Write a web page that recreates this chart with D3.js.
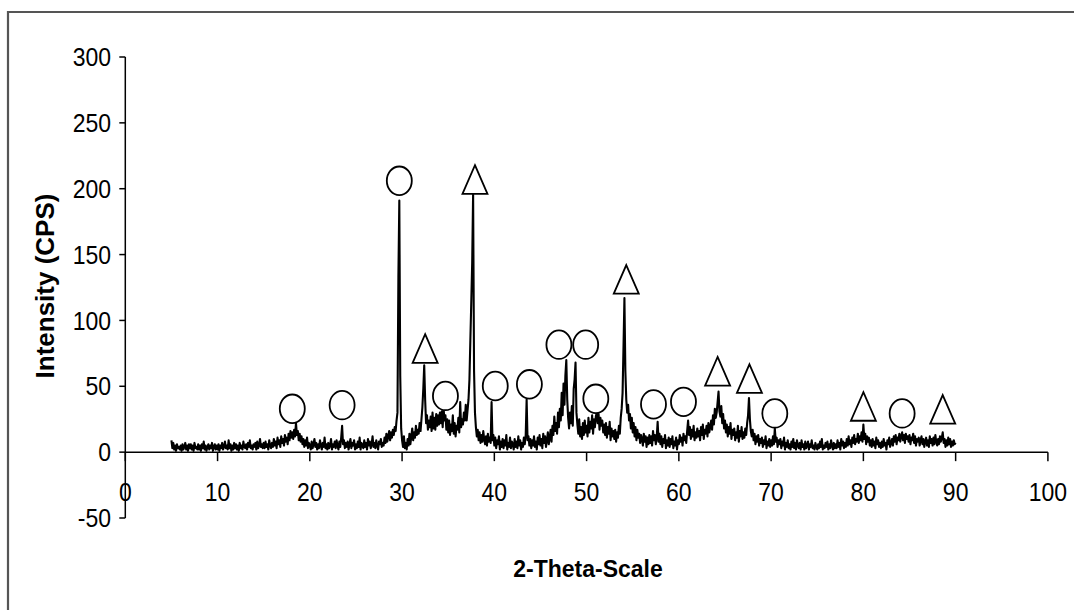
<!DOCTYPE html>
<html>
<head>
<meta charset="utf-8">
<script src="https://cdn.jsdelivr.net/npm/d3@7"></script>
<style>
  html, body { margin: 0; padding: 0; background: #fff; }
  svg { display: block; }
  text { font-family: "Liberation Sans", Arial, sans-serif; fill: #000; }
</style>
</head>
<body>
<svg id="chart" width="1074" height="610"></svg>
<script>
// XRD scan: one row per whole degree of 2-theta, ten readings per row (0.1 deg step)
const scanStart = 5;
const intensityRows = [
  [9,3,7,2,5,1,6,3,4,2],          // 5
  [5,1,6,2,4,7,2,5,1,6],          // 6
  [3,6,2,5,1,7,3,4,2,6],          // 7
  [2,5,1,6,3,8,2,5,1,4],          // 8
  [6,2,5,3,7,1,4,6,2,5],          // 9
  [2,6,1,5,3,7,2,4,8,3],          // 10
  [5,2,9,3,6,1,5,2,7,3],          // 11
  [6,2,5,1,7,3,5,2,8,4],          // 12
  [3,6,2,7,4,9,3,5,2,6],          // 13
  [4,7,2,8,3,5,10,4,6,3],         // 14
  [7,3,8,4,6,2,9,5,3,7],          // 15
  [4,10,5,8,3,11,6,9,4,12],       // 16
  [7,10,5,13,8,11,6,14,9,16],     // 17
  [11,15,10,17,12,22,13,16,9,14], // 18
  [8,12,6,10,4,9,5,11,3,7],       // 19
  [5,2,8,3,6,10,4,7,2,6],         // 20
  [3,9,5,2,7,4,11,3,6,2],         // 21
  [7,3,5,10,2,6,4,8,3,9],         // 22
  [5,2,8,4,11,20,6,9,3,7],        // 23
  [4,8,2,6,10,3,7,5,9,2],         // 24
  [6,3,8,4,11,2,7,5,3,9],         // 25
  [4,7,2,10,5,8,3,6,12,4],        // 26
  [7,3,9,5,2,8,6,10,4,7],         // 27
  [5,11,7,14,8,12,16,9,15,11],    // 28
  [17,13,19,16,24,30,133,191,58,18], // 29
  [9,4,12,3,7,2,10,5,14,6],       // 30
  [12,18,9,15,11,20,13,17,14,22], // 31
  [16,25,34,48,66,40,22,28,17,24],// 32
  [19,27,16,30,18,26,17,29,20,28],// 33
  [21,30,22,31,19,33,24,28,17,25],// 34
  [15,24,13,21,16,28,14,22,12,20],// 35
  [17,26,15,38,19,25,21,30,24,36],// 36
  [24,32,40,55,85,114,144,196,62,30], // 37
  [19,12,17,9,15,7,13,8,16,10],   // 38
  [6,12,5,14,8,11,7,38,9,13],     // 39
  [5,11,3,9,6,12,2,8,4,10],       // 40
  [3,9,5,13,2,7,4,11,3,8],        // 41
  [6,2,10,4,8,3,12,5,9,2],        // 42
  [7,4,11,6,13,40,9,12,5,10],     // 43
  [3,9,5,12,4,8,2,11,6,13],       // 44
  [5,10,3,14,7,12,4,9,15,6],      // 45
  [11,17,8,20,13,27,16,22,14,30], // 46
  [19,33,24,45,28,52,36,58,70,40],// 47
  [26,18,30,22,35,20,48,55,68,30],// 48
  [21,14,25,12,19,10,22,13,24,15],// 49
  [20,12,26,15,23,18,28,14,25,19],// 50
  [27,30,22,29,17,26,20,24,15,21],// 51
  [13,22,11,19,14,23,9,18,12,16], // 52
  [10,17,8,15,11,20,14,26,33,45], // 53
  [80,117,62,40,30,36,24,29,18,26], // 54
  [15,22,12,19,9,17,11,14,7,13],  // 55
  [10,5,14,8,12,4,11,6,13,7],     // 56
  [12,5,16,9,13,6,11,23,8,14],    // 57
  [6,12,4,10,7,13,3,9,5,11],      // 58
  [4,10,6,12,3,8,5,11,2,9],       // 59
  [6,13,8,11,5,14,9,12,7,16],     // 60
  [24,13,19,10,17,12,20,9,15,11], // 61
  [18,12,16,9,19,13,21,10,17,14], // 62
  [20,12,22,15,19,24,17,28,21,33],// 63
  [26,30,38,46,31,27,35,22,29,18],// 64
  [24,15,21,12,19,14,22,10,17,13],// 65
  [18,9,15,11,20,8,16,12,19,10],  // 66
  [15,11,18,13,22,28,41,25,16,12],// 67
  [17,9,14,6,12,8,13,5,10,7],     // 68
  [11,4,9,6,12,3,8,5,10,4],       // 69
  [9,5,12,6,18,8,11,4,9,6],       // 70
  [10,3,8,5,11,2,7,4,9,3],        // 71
  [6,2,8,4,10,3,7,2,9,5],         // 72
  [3,7,2,9,4,6,2,8,3,5],          // 73
  [8,2,6,4,9,3,5,2,7,4],          // 74
  [2,6,3,8,4,10,2,5,3,7],         // 75
  [4,8,2,6,3,9,5,2,7,3],          // 76
  [6,3,9,4,7,2,10,5,8,3],         // 77
  [7,4,10,5,12,6,9,4,11,7],       // 78
  [13,6,10,8,14,7,12,9,15,8],     // 79
  [21,10,14,6,12,8,11,5,9,4],     // 80
  [10,5,8,3,11,6,9,4,7,3],        // 81
  [8,4,10,5,7,2,9,6,11,4],        // 82
  [7,10,5,12,8,13,6,11,9,14],     // 83
  [8,12,15,9,13,7,14,10,12,8],    // 84
  [13,6,11,9,14,7,12,5,10,8],     // 85
  [11,5,9,12,6,10,4,8,11,5],      // 86
  [9,4,12,7,10,5,11,6,13,8],      // 87
  [5,10,6,12,8,11,15,7,10,4],     // 88
  [9,5,11,6,10,4,8,5,9,6],        // 89
  [7]                             // 90
];

// Phase markers: [2-theta, marker centre in CPS]
const circlePeaks = [
  [18.1, 32.9], [23.5, 35.7], [29.7, 206], [34.7, 42.7], [40.1, 50.2],
  [43.8, 51.5], [47.0, 81.6], [49.9, 81.6], [51.0, 40.5], [57.25, 36.3],
  [60.5, 38.2], [70.4, 29.4], [84.2, 29.4]
];
const trianglePeaks = [
  [32.5, 78.7], [37.9, 207], [54.3, 131.2], [64.2, 61.4], [67.65, 55.8],
  [80.0, 34.7], [88.6, 32.5]
];

const xTicks = [0, 10, 20, 30, 40, 50, 60, 70, 80, 90, 100];
const yTicks = [-50, 0, 50, 100, 150, 200, 250, 300];
const xTitle = "2-Theta-Scale";
const yTitle = "Intensity (CPS)";

// Flatten the rows into [2-theta, intensity] pairs
const scan = [];
intensityRows.forEach((row, r) => {
  row.forEach((v, i) => scan.push([(scanStart * 10 + r * 10 + i) / 10, v]));
});

const svg = d3.select("#chart");

const x = d3.scaleLinear().domain([0, 100]).range([125.3, 1047.9]);
const y = d3.scaleLinear().domain([-50, 300]).range([518, 57]);

// outer chart frame (top and left edges visible)
svg.append("path")
  .attr("d", "M8,610 L8,12 L1074,12")
  .attr("fill", "none")
  .attr("stroke", "#555")
  .attr("stroke-width", 2.2);

// y axis
const yAxis = svg.append("g");
yAxis.append("line")
  .attr("x1", x(0)).attr("x2", x(0))
  .attr("y1", y(-50)).attr("y2", y(300))
  .attr("stroke", "#000").attr("stroke-width", 1.5);
yAxis.selectAll("line.tick").data(yTicks).join("line")
  .attr("class", "tick")
  .attr("x1", x(0) - 6).attr("x2", x(0))
  .attr("y1", d => y(d)).attr("y2", d => y(d))
  .attr("stroke", "#000").attr("stroke-width", 1.5);
yAxis.selectAll("text").data(yTicks).join("text")
  .attr("transform", d => `translate(111,${y(d)}) scale(1,1.1)`)
  .attr("text-anchor", "end")
  .attr("dy", "0.36em")
  .style("font-size", "23px")
  .text(d => d);

// x axis along zero intensity
const xAxis = svg.append("g");
xAxis.append("line")
  .attr("x1", x(0)).attr("x2", x(100))
  .attr("y1", y(0)).attr("y2", y(0))
  .attr("stroke", "#000").attr("stroke-width", 1.5);
xAxis.selectAll("line.tick").data(xTicks).join("line")
  .attr("class", "tick")
  .attr("x1", d => x(d)).attr("x2", d => x(d))
  .attr("y1", y(0)).attr("y2", y(0) + 9)
  .attr("stroke", "#000").attr("stroke-width", 1.5);
xAxis.selectAll("text").data(xTicks).join("text")
  .attr("transform", d => `translate(${x(d)},492) scale(1,1.1)`)
  .attr("text-anchor", "middle")
  .attr("dy", "0.36em")
  .style("font-size", "23px")
  .text(d => d);

// axis titles
svg.append("text")
  .attr("x", 588).attr("y", 577)
  .attr("text-anchor", "middle")
  .style("font-size", "23px").style("font-weight", "bold")
  .text(xTitle);
svg.append("text")
  .attr("transform", "translate(54,286) rotate(-90)")
  .attr("text-anchor", "middle")
  .style("font-size", "26px").style("font-weight", "bold")
  .text(yTitle);

// diffraction pattern
svg.append("path")
  .datum(scan)
  .attr("d", d3.line().x(d => x(d[0])).y(d => y(d[1])))
  .attr("fill", "none")
  .attr("stroke", "#000")
  .attr("stroke-width", 2.1)
  .attr("stroke-linejoin", "round");

// phase markers
const rx = 12.5, ry = 14.3;
svg.append("g").selectAll("ellipse").data(circlePeaks).join("ellipse")
  .attr("cx", d => x(d[0])).attr("cy", d => y(d[1]))
  .attr("rx", rx).attr("ry", ry)
  .attr("fill", "#fff").attr("stroke", "#000").attr("stroke-width", 1.8);
svg.append("g").selectAll("path").data(trianglePeaks).join("path")
  .attr("d", d => {
    const cx = x(d[0]), cy = y(d[1]);
    return `M${cx},${cy - ry} L${cx + rx},${cy + ry} L${cx - rx},${cy + ry} Z`;
  })
  .attr("fill", "#fff").attr("stroke", "#000").attr("stroke-width", 1.8)
  .attr("stroke-linejoin", "miter");
</script>
</body>
</html>
